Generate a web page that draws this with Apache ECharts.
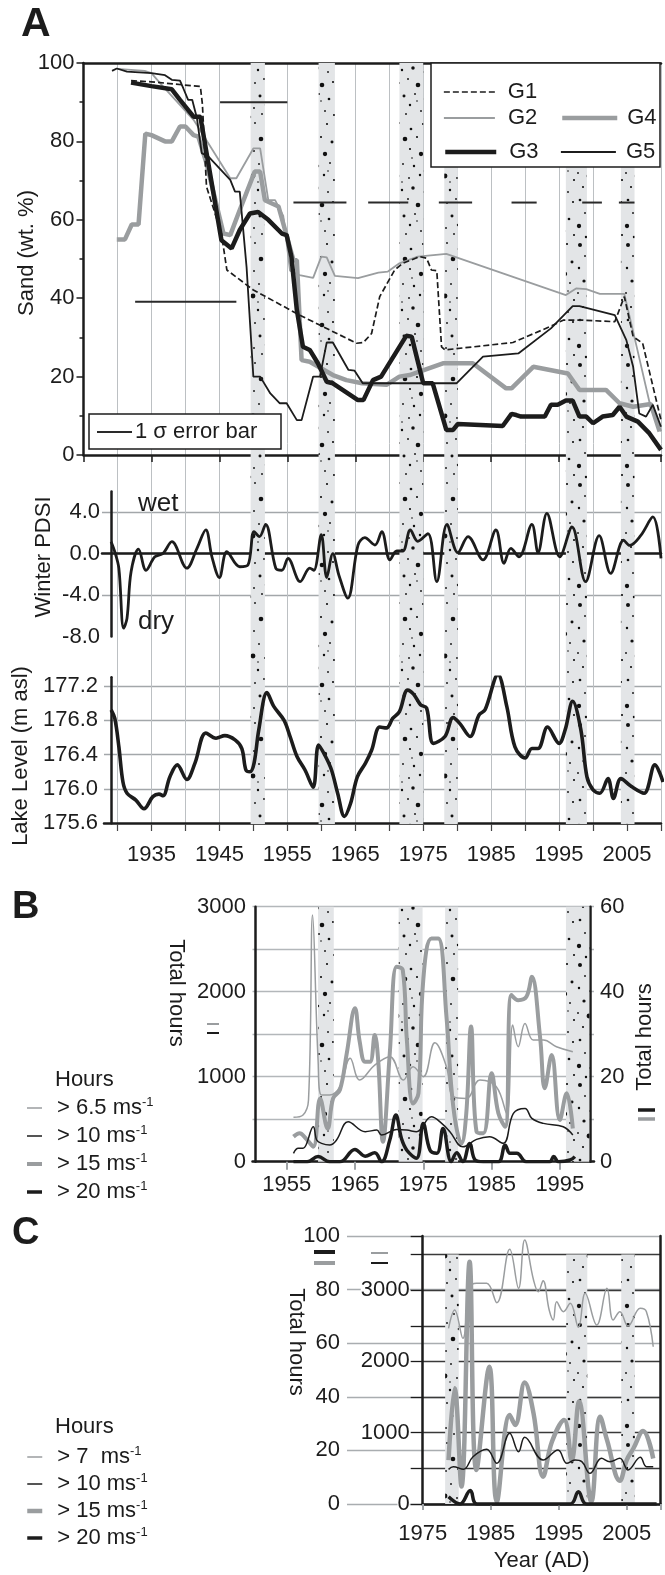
<!DOCTYPE html>
<html><head><meta charset="utf-8">
<script src="https://cdn.jsdelivr.net/npm/echarts@6.0.0/dist/echarts.min.js"></script>
<style>html,body{margin:0;padding:0;background:#fff}#c{width:665px;height:1575px}</style>
</head><body><div id="c"></div>
<script>
// ---------------- DATA ----------------
const bandsA = [[1949.6,1951.7],[1959.6,1962.0],[1971.5,1975.0],[1978.1,1980.1],[1996.0,1999.1],[2004.1,2006.1]];
const bandsB = [[1959.6,1961.9],[1971.4,1974.9],[1978.2,1980.1],[1995.9,1999.3]];
const bandsC = [[1978.3,1980.3],[1996.1,1999.2],[2004.2,2006.2]];

const sandG1 = [[1932,95.5],[1935,95.2],[1942.2,94],[1942.5,89.5],[1943.1,68.5],[1945.3,56.5],[1946.1,47.2],[1950,42.1],[1956.8,35.7],[1965.2,28.5],[1966.2,28.7],[1967.4,31],[1968.6,40.4],[1970.8,47.2],[1972,48.9],[1974.5,50.6],[1975.5,50.2],[1976.2,47.2],[1977,47],[1977.7,27.6],[1978.2,26.8],[1988.2,28.7],[1993.6,32.7],[1995.6,34.4],[1998.5,34.4],[2003.2,34],[2004.6,40.4],[2005.9,30.2],[2007.3,28.5],[2010,8.9]];
const sandG2 = [[1930,98.5],[1934,98],[1935,97.4],[1936.3,94.8],[1941.2,85.5],[1946.6,70.6],[1947.5,70.6],[1950,78.2],[1951,78.2],[1952.2,65],[1953.2,65],[1954.4,61],[1955.4,47],[1956.8,45.9],[1958.8,45.2],[1960,50.6],[1960.8,50.4],[1962,45.7],[1965.4,45.1],[1968.4,46.5],[1969.8,46.8],[1971.5,48.9],[1974.2,50.6],[1978.4,51.3],[1996,40.8],[1997.5,42.5],[1999,42.3],[2001,41.1],[2004.6,41.1],[2006.5,27],[2008.5,12],[2010,6]];
const sandG3 = [[1932,95],[1935,94.1],[1938,93.3],[1939.2,90.6],[1941.2,86.3],[1942.2,86.3],[1945.3,54.8],[1946.8,52.7],[1948,57.4],[1949.5,61.6],[1950.7,62],[1952.2,60],[1954.2,56.5],[1954.9,56.1],[1955.6,50.6],[1956.4,37],[1957.3,27.6],[1958.3,26.8],[1959.5,23.4],[1960.8,18.7],[1961.7,18.3],[1965.4,14],[1966.2,14],[1967.6,19.1],[1968.8,20],[1972.5,30.4],[1973.3,30.2],[1975,18.3],[1976.4,18.3],[1978.4,6.4],[1979.4,6.4],[1980.1,7.9],[1986.7,7.4],[1988,10.5],[1988.7,10.2],[1989.4,9.8],[1992.9,9.8],[1993.8,12.8],[1994.8,12.8],[1996,13.9],[1997,13.9],[1998,9.8],[1999,9.8],[2000,8.1],[2001.4,9.8],[2002.9,10.2],[2003.9,12.3],[2004.9,9.8],[2006.6,8.5],[2008.3,5.5],[2010,1.3]];
const sandG4 = [[1929.9,55],[1931.1,55],[1932.1,58.8],[1933.1,58.8],[1934.1,82],[1935,81.6],[1937,80],[1938,80],[1939.2,83.8],[1940,83.8],[1941.2,81.6],[1941.9,81.2],[1943.1,74.4],[1945.6,56.5],[1946.6,56.1],[1947.8,61.6],[1950.2,72.3],[1951,72.3],[1951.7,65],[1953.7,63.4],[1955.9,49.7],[1956.4,49.7],[1957.1,24.2],[1958.3,23.8],[1961.7,20.4],[1963.7,19.1],[1966,18.3],[1969.6,17.9],[1971.5,20],[1973,20.4],[1977.9,23.4],[1982.3,23.4],[1987.2,17],[1988,17],[1991.2,22.5],[1996.3,20.8],[1998,16.6],[2001.9,16.6],[2003.9,13.2],[2005.9,12.3],[2008.5,13],[2009.8,6]];
const sandG5 = [[1929.2,98],[1929.9,98.6],[1931.4,97.8],[1935,97.4],[1937,96.9],[1938,95.7],[1939.2,95.5],[1939.7,93.5],[1940.4,90.6],[1941,90.6],[1941.7,85.9],[1942.4,77],[1943.4,76.1],[1946.6,70.2],[1947.3,67.2],[1948,67.2],[1949,48],[1950,20],[1951,20],[1952.5,15.7],[1953.9,13.2],[1954.9,13.2],[1956.4,8.9],[1957.1,8.9],[1958.8,20],[1959.8,20],[1960.8,28.7],[1961.7,28.7],[1964,21.7],[1964.9,21.5],[1966.1,18.3],[1979.9,18.3],[1983.8,25.1],[1989,25.9],[1993.8,32.3],[1997,38],[1998,38],[2003.2,35.7],[2004.9,29.3],[2005.9,22.5],[2006.8,10.6],[2007.8,9.8],[2008.8,12.8],[2010,7.2]];
// [start year, end year, sand %]
const errorBars = [[1945.1,1955,90],[1932.6,1947.5,39.1],[1955.9,1963.7,64.4],[1966.9,1972.8,64.4],[1977.3,1982.2,64.4],[1988,1991.7,64.4],[1998.4,2001.3,64.4],[2003.8,2006.1,64.4]];

const pdsi = [[1929.06,1.16],[1929.6,0.19],[1930.2,-1.4],[1930.9,-7.2],[1931.4,-6.25],[1932.0,-1.74],[1933.1,0.45],[1934.2,-1.6],[1935.5,-0.3],[1936.7,0.03],[1938,1.16],[1940.2,-1.4],[1941.7,0.52],[1943,2.3],[1943.9,-0.3],[1945,-2.3],[1946.1,0.19],[1948,-1.26],[1949.2,-1.1],[1950.1,2.13],[1950.9,1.65],[1951.8,2.84],[1953.3,-1.4],[1954.2,-1.6],[1955.1,-0.45],[1956.9,-2.7],[1958.3,-1.4],[1958.9,-1.6],[1960,1.84],[1960.8,-2.3],[1961.7,0.0],[1962.6,-2.1],[1963.9,-4.3],[1965.4,0.84],[1966.4,1.55],[1967.9,0.84],[1968.9,2.13],[1970.1,-0.6],[1971.1,0.26],[1972,0.26],[1973.1,2.29],[1974.2,1.2],[1975.7,1.94],[1977,-2.7],[1978.5,2.84],[1980.1,0.1],[1981.6,1.65],[1983.8,-0.6],[1985.7,2.29],[1986.9,-0.93],[1987.9,0.52],[1989.1,-0.3],[1991,2.84],[1991.9,0.1],[1993.2,3.9],[1995.1,-0.3],[1996.9,2.58],[1998.9,-2.7],[2000.9,1.74],[2002.6,-1.9],[2004.5,1.3],[2005.4,0.8],[2007,1.74],[2008.8,3.55],[2010,-0.45]];

const lake = [[1929.06,176.92],[1929.6,176.82],[1930.2,176.49],[1930.8,176.08],[1931.4,175.95],[1932.7,175.87],[1933.9,175.77],[1935.2,175.91],[1936.1,175.94],[1936.7,175.92],[1937.7,176.14],[1938.8,176.28],[1940.2,176.11],[1941.4,176.30],[1943,176.65],[1944.5,176.59],[1945.8,176.62],[1947.3,176.57],[1948.3,176.47],[1948.9,176.22],[1949.5,176.20],[1950.1,176.30],[1950.8,176.69],[1952,177.12],[1953,176.96],[1954.5,176.80],[1955.4,176.61],[1956.4,176.38],[1957.6,176.22],[1958.8,176.02],[1959.6,176.51],[1960.6,176.38],[1961.5,176.22],[1962.4,175.95],[1963.4,175.68],[1964.3,175.83],[1965.3,176.14],[1966.5,176.30],[1967.4,176.45],[1968.6,176.72],[1969.6,176.71],[1970.5,176.82],[1971.5,176.90],[1972.7,177.15],[1973.6,177.10],[1974.6,176.98],[1975.5,176.94],[1976.5,176.53],[1978.2,176.61],[1979.4,176.83],[1980.4,176.76],[1981.9,176.61],[1983.2,176.86],[1984.1,176.92],[1986,177.33],[1987.3,176.96],[1988.5,176.49],[1990,176.36],[1991,176.47],[1991.9,176.47],[1993.3,176.72],[1995,176.53],[1995.9,176.69],[1997,177.02],[1998.2,176.69],[1999.1,176.14],[2000,175.99],[2001,175.95],[2002.2,176.12],[2003,175.89],[2004.1,176.12],[2005.6,176.03],[2007.5,175.95],[2009.1,176.28],[2010.3,176.08]];

// Panel B (hours): thin lines on left axis, thick lines on right axis
const bH65 = [[1956,522],[1957.4,549],[1958.2,725],[1958.8,2902],[1959.6,1196],[1960.1,784],[1961.3,784],[1962.8,882],[1964.3,1216],[1965.7,961],[1967.9,1137],[1970.1,1235],[1972.1,961],[1973.5,1118],[1975,1000],[1976.7,1400],[1978.4,1118],[1979.4,765],[1981.3,745],[1983.3,961],[1985.7,882],[1987.2,569],[1988.1,1608],[1988.9,1353],[1989.9,1627],[1991.1,1431],[1992.6,1431],[1994.5,1353],[1996.9,1294]];
const bH10 = [[1956,98],[1956.7,157],[1957.4,157],[1958.9,412],[1959.4,255],[1960.1,216],[1961.3,196],[1962.3,255],[1964,470],[1966.5,353],[1968.2,372],[1968.9,314],[1971.1,380],[1972.6,372],[1974,353],[1976.2,529],[1977.7,451],[1978.9,353],[1980.8,176],[1982.8,263],[1984.7,294],[1986.7,216],[1988.2,569],[1989.9,627],[1990.9,510],[1992.6,451],[1995.5,412],[1996.9,314]];
const bH15 = [[1956,5.9],[1956.9,6.7],[1957.9,5.3],[1958.9,3.5],[1959.9,14.9],[1961,7.8],[1961.8,14.9],[1962.8,16.9],[1963.8,25.5],[1965,36.1],[1965.7,28.2],[1966.5,23.5],[1967.2,23.5],[1967.9,29.8],[1968.4,23.9],[1969.1,4.7],[1970.1,25.5],[1971.1,45.9],[1972,45.1],[1972.6,28.6],[1973.5,13.7],[1974.3,16.1],[1975,42.7],[1976.2,52.5],[1977.2,52.5],[1978.4,34.1],[1979.4,12.9],[1980.6,4.3],[1981.3,11.4],[1982,31.8],[1982.8,7.1],[1983.8,6.7],[1985,20.8],[1986,11.4],[1987,8.2],[1987.9,39.2],[1988.9,38],[1990.1,38.8],[1990.9,43.5],[1992.1,29.4],[1992.8,17.3],[1993.8,25.1],[1995,9.8],[1996,16.1],[1996.9,7.8]];
const bH20 = [[1956,0],[1958,0],[1959.6,1.2],[1961.3,0],[1962.8,0],[1965,2.9],[1966.5,1.3],[1967.9,2.1],[1968.9,0],[1970.1,5.1],[1971,11],[1971.8,5.5],[1972.6,2.7],[1974,0.8],[1975,9],[1976,2.7],[1977,2],[1977.9,7.8],[1979.1,0],[1979.9,2.1],[1980.8,0],[1981.8,4.3],[1982.6,0.4],[1983.8,0],[1986,0],[1987,3.9],[1987.7,2],[1988.7,2],[1990.1,0],[1993.5,0],[1994.1,1.2],[1994.8,0],[1996.5,0.4],[1997.2,1.2]];

// Panel C (hours): thin lines on 0-3500 axis, thick lines on 0-100 axis
const cH7 = [[1978.8,2464],[1979.7,2721],[1980.9,2324],[1981.9,3025],[1982.9,3095],[1984.4,3095],[1985.9,2823],[1987.8,3572],[1989.1,3025],[1990,3702],[1991.3,3141],[1992,2977],[1992.7,3132],[1993.6,2721],[1994.2,2581],[1994.7,2837],[1995.7,2697],[1996.7,2815],[1997.9,2478],[1998.9,2955],[2000.6,2510],[2002.1,3025],[2003,2581],[2004,2697],[2005.2,2496],[2007,2744],[2007.9,2697],[2008.9,2206]];
const cH10 = [[1978.8,486],[1979.5,523],[1981,486],[1982.4,663],[1984.4,767],[1985.9,571],[1987.8,992],[1989.1,734],[1990,935],[1992.7,617],[1994.9,757],[1996.2,571],[1997.4,617],[1998.4,594],[1999.6,430],[2001.3,641],[2002.5,594],[2004,641],[2005.2,477],[2007,655],[2007.9,523],[2008.9,523]];
const cH15 = [[1978.8,16.4],[1979.7,43.2],[1980.7,6.5],[1981.9,90.4],[1982.9,12.7],[1984.8,51.2],[1985.9,0.9],[1987.8,33.2],[1988.6,29.5],[1990,45.3],[1991.3,33.8],[1992.7,10.2],[1994,23.2],[1995.8,31.3],[1996.9,16.4],[1998,38.2],[1999.8,0.9],[2001.1,32.6],[2002.1,23.9],[2004,8.7],[2005,16.4],[2006,20.8],[2007.4,27.2],[2008.9,17]];
const cH20 = [[1978.8,2.7],[1980.5,0],[1982,5],[1983,0],[1996.7,0],[1997.9,4.6],[1999.1,0],[2009.4,0]];

const xTicksLake = [1935,1945,1955,1965,1975,1985,1995,2005];
const xTicksB = [1955,1965,1975,1985,1995];

// ---------------- STYLE ----------------
const F = '"Liberation Sans", Arial, Helvetica, sans-serif';
const BLK = '#1c1c1c', GRY = '#9a9d9f', GRID = '#bcc0c3', HGRID = '#a3a7aa';
const lab = (o) => Object.assign({fontSize: 22, fontFamily: F, color: BLK}, o || {});

function makePattern() {
  const c = document.createElement('canvas'); c.width = 48; c.height = 120;
  const g = c.getContext('2d');
  g.fillStyle = '#e3e5e7'; g.fillRect(0, 0, 48, 120);
  g.fillStyle = '#101010';
  const dots = [[4,5,1.5],[15,3,0.7],[27,9,1.0],[39,4,0.8],[9,16,0.7],[21,19,1.7],[33,17,0.8],[44,22,1.1],[3,28,0.9],[14,31,0.7],[26,29,0.8],[37,34,1.6],[8,41,1.2],[19,44,0.7],[30,46,0.9],[42,43,0.7],[2,53,0.7],[13,56,1.8],[25,58,0.7],[36,55,0.9],[46,60,0.8],[7,67,0.8],[18,70,0.9],[29,68,1.3],[40,72,0.7],[4,80,1.0],[15,83,0.7],[24,79,0.7],[34,85,1.7],[45,82,0.8],[9,93,0.7],[20,96,1.1],[31,94,0.7],[41,99,1.0],[3,106,1.6],[14,108,0.7],[26,105,0.9],[37,111,0.7],[46,115,0.8],[10,117,0.9],[22,114,0.7],[33,101,0.6],[18,62,0.6],[40,51,0.6],[28,38,0.6]];
  dots.forEach(d => { g.beginPath(); g.arc(d[0], d[1], d[2] * 1.35, 0, Math.PI * 2); g.fill(); });
  return c;
}
const pat = { image: makePattern(), repeat: 'repeat' };
const bandArea = (bands, y0, y1) => ({ silent: true, itemStyle: { color: pat, opacity: 1 },
  data: bands.map(b => [{ xAxis: b[0], yAxis: y0 }, { xAxis: b[1], yAxis: y1 }]) });

const chart = echarts.init(document.getElementById('c'), null, { renderer: 'canvas' });
const noAx = { show: false };

const grid = [
  { left: 117.5, top: 63, width: 543.5, height: 761 },          // 0 background (vertical grid + bands)
  { left: 83.5, top: 63, width: 577.5, height: 392 },            // 1 sand
  { left: 102, top: 491.6, width: 559, height: 144.9 },          // 2 PDSI
  { left: 104, top: 677.2, width: 557, height: 146.1 },          // 3 lake
  { left: 252.5, top: 906.7, width: 341.5, height: 255 },        // 4 panel B
  { left: 347, top: 1236, width: 314, height: 268 },             // 5 panel C outer grid lines
  { left: 422.7, top: 1236, width: 238, height: 268 }            // 6 panel C
].map(g => Object.assign({ containLabel: false, outerBoundsMode: 'none' }, g));

const xAxis = [
  { gridIndex: 0, type: 'value', min: 1930, max: 2010, interval: 5,
    splitLine: { show: true, lineStyle: { color: GRID, width: 1 } },
    axisLine: { show: false }, axisTick: { show: true, length: 7, lineStyle: { color: '#444', width: 1.2 } },
    axisLabel: lab({ margin: 20, formatter: v => xTicksLake.indexOf(v) >= 0 ? String(v) : '' }) },
  { gridIndex: 1, type: 'value', min: 1925, max: 2010, interval: 10,
    axisLine: { lineStyle: { color: BLK, width: 2.5 } }, axisTick: { length: 7, lineStyle: { color: BLK, width: 1.5 } },
    axisLabel: { show: false }, splitLine: { show: false } },
  { gridIndex: 1, type: 'value', position: 'top', min: 1925, max: 2010,
    axisLine: { lineStyle: { color: BLK, width: 2.5 } }, axisTick: noAx, axisLabel: noAx, splitLine: noAx },
  { gridIndex: 2, type: 'value', min: 1927.72, max: 2010,
    axisLine: { lineStyle: { color: BLK, width: 2.5 } }, axisTick: noAx, axisLabel: noAx, splitLine: noAx },
  { gridIndex: 3, type: 'value', min: 1928.01, max: 2010,
    axisLine: { lineStyle: { color: BLK, width: 2.5 } }, axisTick: noAx, axisLabel: noAx, splitLine: noAx },
  { gridIndex: 4, type: 'value', min: 1950, max: 2000,
    axisLine: { lineStyle: { color: BLK, width: 2.5 } },
    axisTick: { show: true, customValues: xTicksB, length: 8, lineStyle: { color: '#9fa3a6', width: 2 } },
    axisLabel: lab({ customValues: xTicksB, margin: 12, formatter: v => String(v) }), splitLine: noAx },
  { gridIndex: 5, type: 'value', min: 1975, max: 2010, show: false },
  { gridIndex: 6, type: 'value', min: 1975, max: 2010, interval: 10,
    axisLine: { lineStyle: { color: BLK, width: 2.5 } },
    axisTick: { length: 6, lineStyle: { color: '#9fa3a6', width: 2 } },
    axisLabel: lab({ margin: 19, formatter: v => v > 2006 ? '' : String(v) }), splitLine: noAx,
    name: 'Year (AD)', nameLocation: 'middle', nameGap: 46, nameTextStyle: lab() }
];

const yAxis = [
  { gridIndex: 0, type: 'value', min: 0, max: 1, show: false },
  { gridIndex: 1, type: 'value', min: 0, max: 100, interval: 20,
    axisLine: { show: true, lineStyle: { color: BLK, width: 2.5 } },
    axisTick: { show: true, length: 7, lineStyle: { color: BLK, width: 1.5 } },
    minorTick: { show: true, splitNumber: 2, length: 4, lineStyle: { color: BLK, width: 1.5 } },
    axisLabel: lab({ margin: 9 }), splitLine: noAx },
  { gridIndex: 2, type: 'value', min: -8, max: 6, interval: 4, offset: -9,
    axisLine: { show: true, lineStyle: { color: BLK, width: 2.5 } }, axisTick: noAx,
    axisLabel: lab({ margin: 11, formatter: v => v > 5 ? '' : v.toFixed(1) }),
    splitLine: { show: true, showMaxLine: false, showMinLine: false, lineStyle: { color: HGRID, width: 1.3 } } },
  { gridIndex: 3, type: 'value', min: 175.6, max: 177.3, interval: 0.4, offset: -7,
    axisLine: { show: true, lineStyle: { color: BLK, width: 2.5 } }, axisTick: noAx,
    axisLabel: lab({ margin: 13, formatter: v => v > 177.25 ? '' : v.toFixed(1) }),
    splitLine: { show: true, showMaxLine: false, showMinLine: false, lineStyle: { color: HGRID, width: 1.3 } } },
  { gridIndex: 4, type: 'value', min: 0, max: 3000, interval: 500, offset: -2.5,
    axisLine: { show: true, lineStyle: { color: BLK, width: 2.5 } }, axisTick: noAx,
    axisLabel: lab({ margin: 9, formatter: v => v % 1000 === 0 ? String(v) : '' }),
    splitLine: { show: true, lineStyle: { color: '#b3b7ba', width: 1.3 } } },
  { gridIndex: 4, type: 'value', position: 'right', min: 0, max: 60, interval: 10, offset: -4,
    axisLine: { show: true, lineStyle: { color: BLK, width: 2.5 } }, axisTick: noAx,
    axisLabel: lab({ margin: 10, formatter: v => v % 20 === 0 ? String(v) : '' }), splitLine: noAx },
  { gridIndex: 5, type: 'value', min: 0, max: 100, interval: 20,
    axisLine: noAx, axisTick: noAx, axisLabel: lab({ margin: 7 }),
    splitLine: { show: true, lineStyle: { color: '#a9adb0', width: 1.3 } } },
  { gridIndex: 6, type: 'value', min: 0, max: 3759, interval: 500,
    axisLine: { show: true, lineStyle: { color: BLK, width: 2.5 } },
    axisTick: { show: true, length: 12, lineStyle: { color: BLK, width: 1.3 } },
    axisLabel: lab({ margin: 13, backgroundColor: '#fff',
      formatter: v => (v % 1000 === 0 && v <= 3000) ? String(v) : '' }),
    splitLine: { show: true, showMaxLine: false, lineStyle: { color: '#3a3a3a', width: 1.3 } } },
  { gridIndex: 6, type: 'value', min: 0, max: 100, show: false },
  { gridIndex: 6, type: 'value', position: 'right', min: 0, max: 100,
    axisLine: { show: true, lineStyle: { color: BLK, width: 2.5 } }, axisTick: noAx, axisLabel: noAx, splitLine: noAx }
];

const ln = (name, data, xi, yi, color, width, extra) => Object.assign({
  type: 'line', name, data, xAxisIndex: xi, yAxisIndex: yi, symbol: 'none', silent: true,
  lineStyle: { color, width }, itemStyle: { color }, animation: false }, extra || {});

const series = [
  ln('bandsA', [[1930, 0], [2010, 0]], 0, 0, 'rgba(0,0,0,0)', 0, { markArea: bandArea(bandsA, 0, 1) }),
  ln('G4', sandG4, 1, 1, GRY, 4.5),
  ln('G2', sandG2, 1, 1, GRY, 1.8),
  ln('G1', sandG1, 1, 1, BLK, 1.7, { lineStyle: { color: BLK, width: 1.7, type: [6, 3] } }),
  ln('G5', sandG5, 1, 1, BLK, 1.8),
  ln('G3', sandG3, 1, 1, BLK, 4.5),
  ...errorBars.map((e, i) => ln('err' + i, [[e[0], e[2]], [e[1], e[2]]], 1, 1, '#2a2a2a', 2)),
  ln('Winter PDSI', pdsi, 3, 2, BLK, 2.8, { smooth: 0.35 }),
  ln('Lake Level', lake, 4, 3, BLK, 3.6, { smooth: 0.35 }),
  ln('bandsB', [[1955, 0], [1956, 0]], 5, 4, 'rgba(0,0,0,0)', 0, { markArea: bandArea(bandsB, 0, 3000) }),
  ln('> 15 ms-1', bH15, 5, 5, GRY, 4, { smooth: 0.4 }),
  ln('> 6.5 ms-1', bH65, 5, 4, GRY, 1.5, { smooth: 0.4 }),
  ln('> 10 ms-1', bH10, 5, 4, BLK, 1.5, { smooth: 0.4 }),
  ln('> 20 ms-1', bH20, 5, 5, BLK, 3.5, { smooth: 0.4 }),
  ln('bandsC', [[1976, 0], [1977, 0]], 7, 7, 'rgba(0,0,0,0)', 0, { markArea: bandArea(bandsC, 0, 3500) }),
  ln('> 7  ms-1', cH7, 7, 7, GRY, 1.5, { smooth: 0.4 }),
  ln('C > 15 ms-1', cH15, 7, 8, GRY, 4.5, { smooth: 0.4 }),
  ln('C > 10 ms-1', cH10, 7, 7, BLK, 1.5, { smooth: 0.4 }),
  ln('C > 20 ms-1', cH20, 7, 8, BLK, 3.5, { smooth: 0.4 })
];

const legSand = (name, left, top, w, pad) => ({
  data: [name], left, top, padding: 0, itemWidth: w, itemHeight: 14, selectedMode: false, z: 20,
  itemStyle: { opacity: 0 }, lineStyle: { width: 'inherit' }, textStyle: lab({ padding: [0, 0, 0, pad] }) });
const rich = { s: { fontSize: 13, fontFamily: F, color: BLK, verticalAlign: 'top', lineHeight: 12 } };
const legHours = (names, top, gap) => ({
  data: names, left: 25, top, orient: 'vertical', padding: 0, itemWidth: 15, itemHeight: 14, itemGap: gap,
  selectedMode: false, z: 20, itemStyle: { opacity: 0 }, lineStyle: { width: 'inherit' },
  formatter: n => n.replace(/^C /, '').replace('ms-1', 'ms{s|-1}'),
  textStyle: lab({ padding: [0, 0, 0, 10], lineHeight: 24, rich }) });

const legend = [
  legSand('G1', 443, 81, 51, 8), legSand('G2', 443, 107, 51, 8), legSand('G3', 443, 141, 51, 8),
  legSand('G4', 560, 107, 55, 5), legSand('G5', 560, 141, 55, 5),
  legHours(['> 6.5 ms-1', '> 10 ms-1', '> 15 ms-1', '> 20 ms-1'], 1096, 4),
  legHours(['> 7  ms-1', 'C > 10 ms-1', 'C > 15 ms-1', 'C > 20 ms-1'], 1445, 3)
];

const T = (text, x, y, o) => Object.assign({ type: 'text', x, y, z: 12,
  style: Object.assign({ text, font: '22px ' + F, fill: BLK, textAlign: 'center', textVerticalAlign: 'middle' }, (o && o.style) || {}) },
  o && o.rotation !== undefined ? { rotation: o.rotation } : {});
const bar = (x1, x2, y, color, w) => ({ type: 'line', z: 12, shape: { x1, y1: y, x2, y2: y }, style: { stroke: color, lineWidth: w } });
const R = Math.PI / 2;

const graphic = [
  T('A', 21, 25, { style: { font: 'bold 41px ' + F, textAlign: 'left' } }),
  T('B', 12, 908, { style: { font: 'bold 38px ' + F, textAlign: 'left' } }),
  T('C', 12, 1234, { style: { font: 'bold 38px ' + F, textAlign: 'left' } }),
  T('Sand (wt. %)', 27, 253, { rotation: R }),
  T('Winter PDSI', 44, 557, { rotation: R }),
  T('Lake Level (m asl)', 21, 756, { rotation: R }),
  T('wet', 138, 504, { style: { font: '26px ' + F, textAlign: 'left' } }),
  T('dry', 138, 622, { style: { font: '26px ' + F, textAlign: 'left' } }),
  { type: 'rect', z: 10, shape: { x: 431, y: 63, width: 229, height: 104 }, style: { fill: '#fff', stroke: BLK, lineWidth: 1.5 } },
  { type: 'rect', z: 10, shape: { x: 89, y: 414, width: 192, height: 35 }, style: { fill: '#fff', stroke: BLK, lineWidth: 1.5 } },
  bar(97, 132, 432, '#2a2a2a', 2),
  T('1 σ error bar', 135, 432, { style: { textAlign: 'left' } }),
  T('Hours', 55, 1080, { style: { textAlign: 'left' } }),
  T('Hours', 55, 1427, { style: { textAlign: 'left' } }),
  T('Total hours', 176, 993, { rotation: -R }),
  bar(207, 219, 1024, GRY, 2), bar(207, 219, 1033, BLK, 2),
  T('Total hours', 645, 1037, { rotation: R }),
  bar(638, 655, 1110, BLK, 3.5), bar(638, 655, 1119, GRY, 3.5),
  T('Total hours', 296, 1342, { rotation: -R }),
  bar(314, 335, 1252, BLK, 4), bar(314, 335, 1263, GRY, 4),
  bar(371, 388, 1253, GRY, 2), bar(371, 388, 1263, BLK, 2)
];

chart.setOption({ animation: false, backgroundColor: '#fff', grid, xAxis, yAxis, series, legend, graphic });
</script></body></html>
